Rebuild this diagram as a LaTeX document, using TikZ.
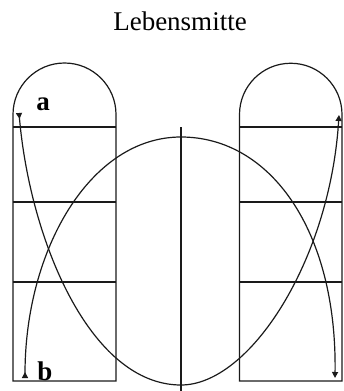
\documentclass[tikz,border=0pt]{standalone}
\usepackage{fontspec}
\setmainfont{Liberation Serif}
\usetikzlibrary{arrows.meta}
\definecolor{ltrait}{HTML}{1A1A1A}

\begin{document}
\begin{tikzpicture}[x=1pt,y=-1pt,line width=1.2pt,
  bogen/.style={ltrait,{Triangle[reversed,width=6pt,length=6pt]}-{Triangle[width=6pt,length=6pt]}},
  marke/.style={font=\fontsize{27}{29}\selectfont\bfseries,inner sep=0pt,anchor=base}]
  \useasboundingbox (0,0) rectangle (343,391);
  % titel
  \node[font=\fontsize{27}{30}\selectfont,anchor=base] (titel) at (180,30) {Lebensmitte};
  % tuerme : links / rechts
  \foreach \l/\r in {13/116, 239.5/342} {
    \draw[ltrait] (\l,381) -- (\l,114.5) arc[start angle=180,end angle=360,radius={(\r-\l)/2}] -- (\r,381) -- cycle;
    \foreach \h in {127,202,282} {\draw[ltrait] (\l,\h) -- (\r,\h);}
  }
  % mittellinie
  \coordinate (mitte-o) at (181,127);
  \coordinate (mitte-u) at (181,391);
  \draw[ltrait] (mitte-o) -- (mitte-u);
  % boegen
  \coordinate (a) at (19,113);
  \coordinate (b) at (25,378);
  \coordinate (oben) at (181,137);
  \coordinate (unten) at (181,385);
  \coordinate (re-o) at (339,115);
  \coordinate (re-u) at (335,378);
  \draw[bogen] (a) .. controls (30,240) and (90,385) .. (unten) .. controls (250,385) and (330,260) .. (re-o);
  \draw[bogen] (b) .. controls (25,250) and (90,137) .. (oben) .. controls (270,137) and (337,230) .. (re-u);
  % beschriftung
  \node[marke] (la) at (43,110) {a};
  \node[marke] (lb) at (45,380) {b};
\end{tikzpicture}
\end{document}
